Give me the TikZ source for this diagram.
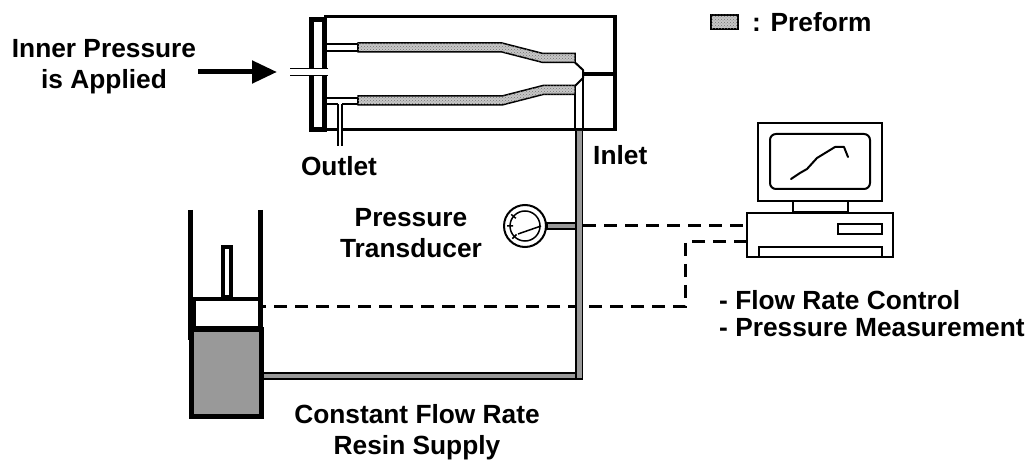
\documentclass[tikz,border=0pt]{standalone}
\usepackage{fontspec}
\setmainfont{Liberation Sans}
\usetikzlibrary{patterns,arrows.meta}
\begin{document}
\begin{tikzpicture}[x=1pt,y=-1pt,
  lbl/.style={font=\fontsize{26.3}{31}\selectfont\bfseries, inner sep=0pt},
  pipeline/.style={line width=1.5pt},
  preform/.style={draw=black, line width=1.5pt, fill=black!22,
    postaction={pattern=crosshatch dots, pattern color=black!55}},
  gpipe/.style={draw=black, line width=1.5pt, fill=black!40},
  sig/.style={line width=3pt, dash pattern=on 13pt off 8pt},
  pc/.style={line width=2pt, fill=white},
]
\useasboundingbox (0,0) rectangle (1031,462);

% ---------- signal lines ----------
\coordinate (tport) at (583,226);
\coordinate (pcA) at (747,226);
\coordinate (pcB) at (747,242);
\coordinate (piston) at (263,307);
\draw[sig] (tport) -- (pcA);
\draw[sig] (pcB) -- ++(-62,0) |- (piston);

% ---------- mould ----------
\draw[line width=3.5pt, line join=miter] (324,16.5) -- (615,16.5) -- (615,129.5) -- (324,129.5);
\draw[line width=5pt, fill=white] (311.5,19.5) rectangle (324.5,129.5);
% pressure port through the end plate
\fill[white] (306,68.5) rectangle (329.5,75.5);
\draw[pipeline] (290,68.5) -- (328,68.5) (290,75.5) -- (328,75.5);

% mandrel tubes
\draw[pipeline, fill=white] (326,44) rectangle (358,51);
\draw[pipeline, fill=white] (326,98) rectangle (358,104);
% outlet
\fill[white] (338,103) rectangle (342,146);
\draw[pipeline] (338,104) -- (338,146) (342,104) -- (342,146);

% preform layers
\draw[preform] (358,43) -- (502,43) -- (543,53.5) -- (575,53.5) -- (575,62.5)
  -- (543,62.5) -- (502,52) -- (358,52) -- cycle;
\draw[preform] (358,96) -- (502,96) -- (543,85.5) -- (575,85.5) -- (575,94.5)
  -- (543,94.5) -- (502,105) -- (358,105) -- cycle;

% nozzle and inlet channel
\draw[line width=2pt, line join=round] (575,62.5) -- (583,70) -- (583,78) -- (575,86);
\draw[line width=4pt] (583,74.5) -- (615,74.5);
\draw[pipeline] (575,94.5) -- (575,129) (583,78) -- (583,129);

% ---------- resin feed pipe ----------
\draw[gpipe] (576,131) -- (576,373) -- (262,373) -- (262,379) -- (582.5,379) -- (582.5,131);
\draw[pipeline] (576,373) -- (576,379);

% ---------- pressure transducer ----------
\draw[gpipe] (547,223) rectangle (576,229);
\draw[line width=2pt, fill=white] (525,226) circle (21);
\draw[line width=1.5pt] (525,226) circle (15);
\draw[line width=1.5pt] (515.8,218.3) -- (511.2,214.4)
  (513,226) -- (507,226) (516.5,234.5) -- (512.3,238.7);
\draw[line width=1.5pt] (518,234) -- (541,226);

% ---------- injection cylinder ----------
\draw[line width=5pt] (190.5,210) -- (190.5,340) (260.5,210) -- (260.5,340);
\draw[line width=5pt, fill=black!40] (191,330) rectangle (261,416);
\draw[line width=4pt, fill=white] (194,299) rectangle (259.5,328);
\draw[line width=3.5pt, fill=white] (223,247) rectangle (231,297);

% ---------- computer ----------
\draw[pc] (758,123) rectangle (882,201);
\draw[pc, rounded corners=6pt] (770,134) rectangle (870,189);
\draw[line width=2pt, line join=round, line cap=round]
  (791,179) -- (800,173) -- (807,169) -- (817,158) -- (835,147) -- (844,147) -- (848,157);
\draw[pc] (793,201) rectangle (848,212);
\draw[pc] (747,213) rectangle (893,257);
\draw[pc] (838,224) rectangle (882,234);
\draw[pc] (759,247) rectangle (882,257);

% ---------- legend ----------
\draw[preform] (711,15) rectangle (738,29);
\node[lbl, anchor=base west] (leg) at (752,32) {: Preform};

% ---------- pressure arrow ----------
\coordinate (atail) at (198,72);
\coordinate (pin) at (277,72);
\draw[line width=5pt, -{Triangle[length=25pt,width=22pt]}] (atail) -- (pin);

% ---------- labels ----------
\node[lbl, anchor=base] (ip1) at (104,58) {Inner Pressure};
\node[lbl, anchor=base] (ip2) at (104,89) {is Applied};
\node[lbl, anchor=base] (outlet) at (339,176) {Outlet};
\node[lbl, anchor=base west] (inlet) at (593,165) {Inlet};
\node[lbl, anchor=base] (pt1) at (411,227) {Pressure};
\node[lbl, anchor=base] (pt2) at (411,258) {Transducer};
\node[lbl, anchor=base] (cf1) at (417,423) {Constant Flow Rate};
\node[lbl, anchor=base] (cf2) at (417,454) {Resin Supply};
\node[lbl, anchor=base west] (fr1) at (719,310) {- Flow Rate Control};
\node[lbl, anchor=base west] (fr2) at (719,337) {- Pressure Measurement};
\end{tikzpicture}
\end{document}
